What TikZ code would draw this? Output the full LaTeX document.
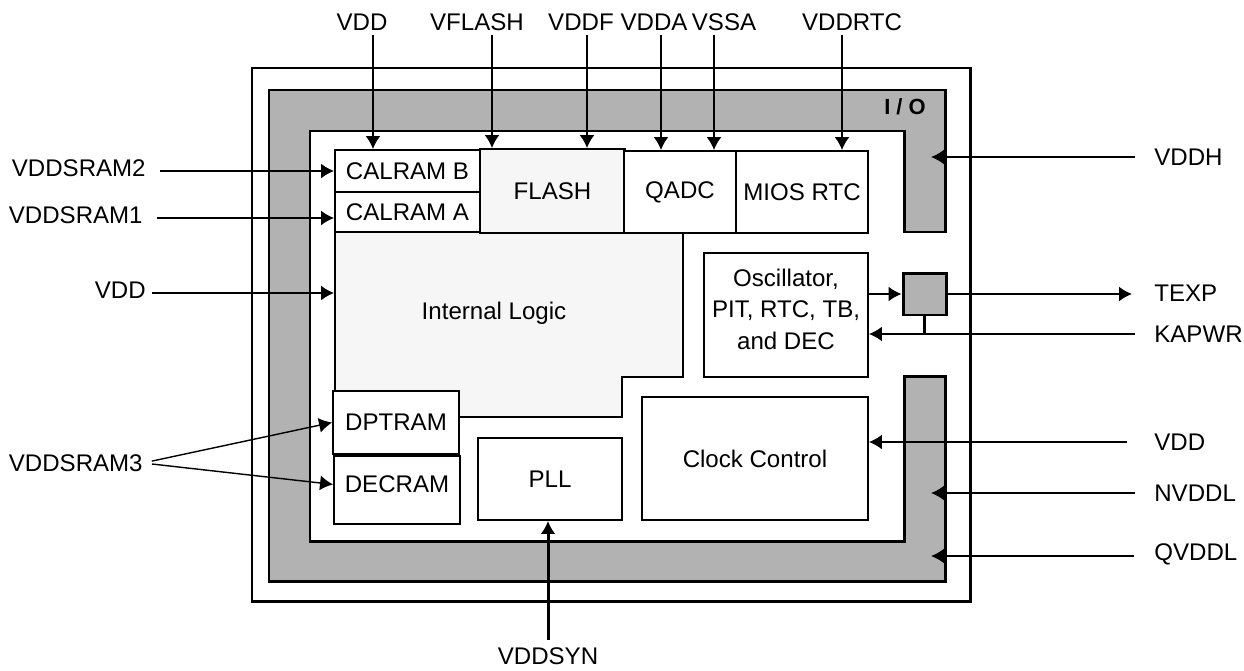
\documentclass[tikz,border=0pt]{standalone}
\usepackage{fontspec}
\setmainfont{Liberation Sans}
\usepackage{xcolor}
\usetikzlibrary{calc,arrows.meta}

\definecolor{iogray}{gray}{0.70}
\definecolor{logicgray}{gray}{0.965}

\begin{document}
\begin{tikzpicture}[x=0.02cm, y=-0.02cm, font=\fontsize{13.7}{18}\selectfont]
    % Styles for blocks, pins and lines
    \tikzset{
      box/.style={rectangle, draw=black, line width=1.1pt, fill=white, align=center, inner sep=0pt},
      pin/.style={inner sep=0pt},
      lpin/.style={pin, anchor=east, text depth=3.4pt},
      rpin/.style={pin, anchor=west},
      arrow/.style={line width=1.1pt, -{Latex[length=0.26cm,width=0.3cm]}},
      ring/.style={line width=1.7pt}
    }

    \useasboundingbox (0,0) rectangle (1244,670);

    % Chip outline and I/O ring
    \draw[ring] (252,68) rectangle (970,601);
    \draw[ring, fill=iogray] (269,90) -- (945,90) -- (945,232) -- (904,232) -- (904,131)
      -- (310,131) -- (310,541) -- (904,541) -- (904,376) -- (945,376) -- (945,581)
      -- (269,581) -- cycle;
    \node[font=\bfseries\fontsize{12.5}{15}\selectfont] (io) at (905,107) {I / O};
    \coordinate (iopin) at (931,90);

    % Internal logic area
    \draw[line width=1.1pt, fill=logicgray] (335,232) -- (683,232) -- (683,377) -- (622,377)
      -- (622,417) -- (459,417) -- (459,391) -- (335,391) -- cycle;
    \node (logic) at (494,313) {Internal Logic};

    % Blocks with explicit coordinates
    \node[box, minimum width=2.9cm, minimum height=0.84cm] (calb) at (407.5,171) {CALRAM B};
    \node[box, minimum width=2.9cm, minimum height=0.8cm] (cala) at (407.5,212) {CALRAM A};
    \node[box, fill=logicgray, minimum width=2.9cm, minimum height=1.68cm] (flash) at (552.5,191) {FLASH};
    \node[box, minimum width=2.24cm, minimum height=1.64cm] (qadc) at (680,192) {QADC};
    \node[box, minimum width=2.64cm, minimum height=1.64cm] (mios) at (802,192) {MIOS RTC};
    \node[box, minimum width=3.28cm, minimum height=2.48cm] (osc) at (786,315)
      {Oscillator,\\PIT, RTC, TB,\\and DEC\rule[-0.24cm]{0pt}{0pt}};
    \node[box, minimum width=2.52cm, minimum height=1.26cm] (dpt) at (396,422.5) {DPTRAM};
    \node[box, minimum width=2.52cm, minimum height=1.36cm] (decram) at (397,490) {DECRAM\rule[-0.24cm]{0pt}{0pt}};
    \node[box, minimum width=2.88cm, minimum height=1.64cm] (pll) at (550,479) {PLL};
    \node[box, minimum width=4.52cm, minimum height=2.46cm] (clk) at (755,458.5) {Clock Control};

    % Top supplies
    \node[pin] (tVDD) at (362,22) {VDD};
    \node[pin] (tVFLASH) at (477,22) {VFLASH};
    \node[pin] (tVDDF) at (581,22) {VDDF};
    \node[pin] (tVDDA) at (654,22) {VDDA};
    \node[pin] (tVSSA) at (724,22) {VSSA};
    \node[pin] (tVDDRTC) at (852,22) {VDDRTC};

    \draw[arrow] ($(tVDD.south)+(0.22cm,-0.09cm)$) -- ($(tVDD.south |- calb.north)+(0.22cm,0)$);
    \draw[arrow] ($(tVFLASH.south)+(0.3cm,-0.09cm)$) -- ($(tVFLASH.south |- flash.north)+(0.3cm,0)$);
    \draw[arrow] ($(tVDDF.south)+(0.12cm,-0.09cm)$) -- ($(tVDDF.south |- flash.north)+(0.12cm,0)$);
    \draw[arrow] ($(tVDDA.south)+(0.14cm,-0.09cm)$) -- ($(tVDDA.south |- qadc.north)+(0.14cm,0)$);
    \draw[arrow] ($(tVSSA.south)+(-0.2cm,-0.09cm)$) -- ($(tVSSA.south |- qadc.north)+(-0.2cm,0)$);
    \draw[arrow] ($(tVDDRTC.south)+(-0.2cm,-0.09cm)$) -- ($(tVDDRTC.south |- mios.north)+(-0.2cm,0)$);

    % Left supplies
    \node[lpin] (lSRAM2) at (146,171) {VDDSRAM2};
    \node[lpin] (lSRAM1) at (143,218) {VDDSRAM1};
    \node[lpin] (lVDD) at (146,293) {VDD};
    \node[pin, anchor=east] (lSRAM3) at (143,463) {VDDSRAM3};

    \draw[arrow, shorten <=0.28cm] (lSRAM2.east) -- (lSRAM2.east -| calb.west);
    \draw[arrow, shorten <=0.28cm] (lSRAM1.east) -- (lSRAM1.east -| cala.west);
    \draw[arrow, shorten <=0.12cm] (lVDD.east) -- (lVDD.east -| cala.west);
    \draw[arrow, line width=0.8pt, shorten <=0.18cm] (lSRAM3.east) -- (dpt.west);
    \draw[arrow, line width=0.8pt, shorten <=0.18cm] (lSRAM3.east) -- (decram.175);

    % Right supplies and signals
    \node[box, ring, fill=iogray, minimum width=0.86cm, minimum height=0.84cm] (sq) at (924.5,294) {};
    \node[rpin] (rVDDH) at (1154,157) {VDDH};
    \node[rpin] (rTEXP) at (1154,293) {TEXP};
    \node[rpin] (rKAPWR) at (1154,334) {KAPWR};
    \node[rpin] (rVDD) at (1154,442) {VDD};
    \node[rpin] (rNVDDL) at (1154,493) {NVDDL};
    \node[rpin, text depth=5pt] (rQVDDL) at (1154,556) {QVDDL};

    \draw[arrow, shorten <=0.38cm] (rVDDH.west) -- (rVDDH.west -| iopin);
    \draw[arrow] (osc.east |- sq.west) -- (sq.west);
    \draw[arrow, shorten >=0.44cm] (sq.east) -- (sq.east -| rTEXP.west);
    \draw[ring] (sq.south) -- (sq.south |- rKAPWR.west);
    \draw[arrow, shorten <=0.38cm] (rKAPWR.west) -- (rKAPWR.west -| osc.east);
    \draw[arrow, shorten <=0.54cm] (rVDD.west) -- (rVDD.west -| clk.east);
    \draw[arrow, shorten <=0.38cm] (rNVDDL.west) -- (rNVDDL.west -| iopin);
    \draw[arrow, shorten <=0.4cm] (rQVDDL.west) -- (rQVDDL.west -| iopin);

    % Bottom supply
    \node[pin] (bVDDSYN) at (548,656) {VDDSYN};
    \draw[arrow, ring, shorten <=0.14cm] (bVDDSYN.north) -- (bVDDSYN.north |- pll.south);

\end{tikzpicture}
\end{document}
